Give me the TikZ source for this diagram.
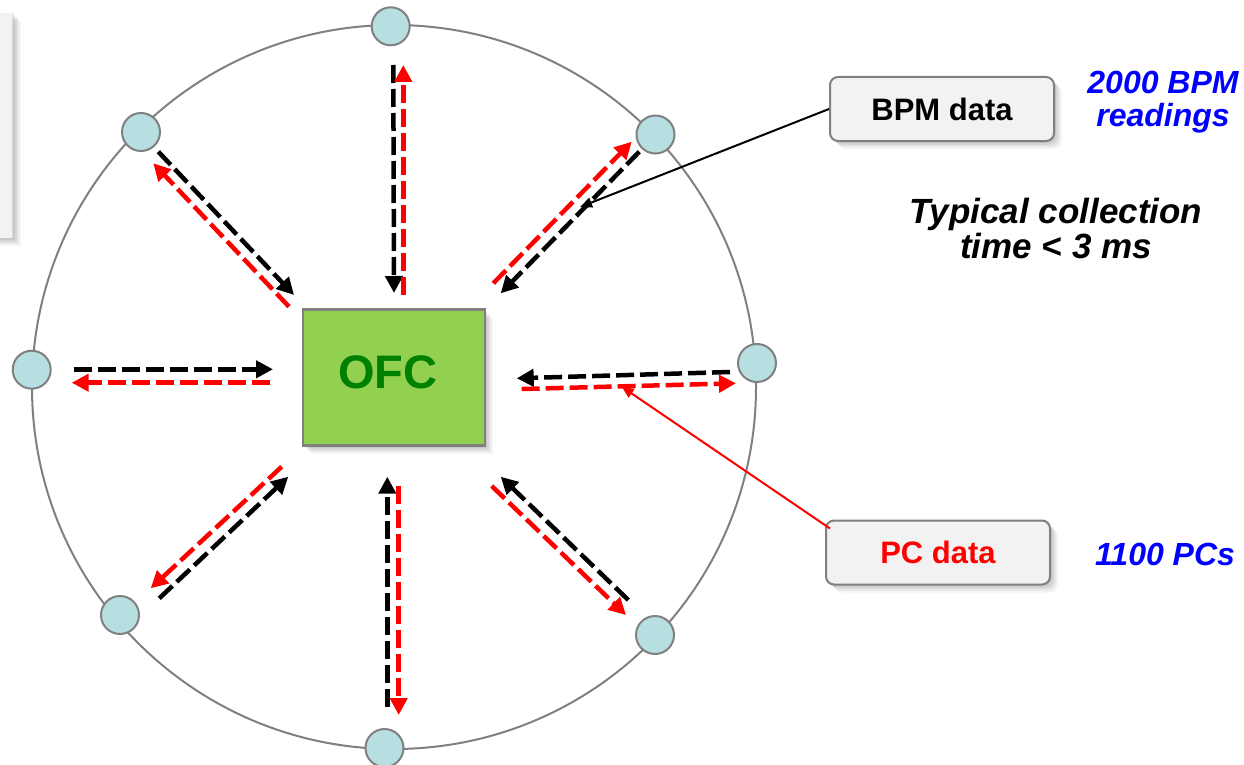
\documentclass[tikz,border=0pt]{standalone}
\usepackage{fontspec}
\setmainfont{Liberation Sans}
\usetikzlibrary{arrows.meta,shadows}

\definecolor{ringgray}{HTML}{808080}
\definecolor{stationfill}{HTML}{B7DEE0}
\definecolor{ofcgreen}{HTML}{92D050}
\definecolor{ofctext}{HTML}{008000}
\definecolor{panelfill}{HTML}{F2F2F2}
\definecolor{labelblue}{HTML}{0000FF}
\definecolor{flowred}{HTML}{FF0000}

\tikzset{
  softshadow/.style={
    general shadow={fill=black,opacity=0.07,shadow xshift=2pt,shadow yshift=-2pt},
    general shadow={fill=black,opacity=0.07,shadow xshift=4pt,shadow yshift=-4pt},
    general shadow={fill=black,opacity=0.06,shadow xshift=6pt,shadow yshift=-6pt},
    general shadow={fill=black,opacity=0.04,shadow xshift=8pt,shadow yshift=-8pt}},
  ring/.style={draw=ringgray,line width=2pt},
  station/.style={circle,draw=ringgray,line width=2pt,fill=stationfill,
    minimum size=38pt,inner sep=0pt},
  ofcbox/.style={rectangle,draw=ringgray,line width=2.5pt,fill=ofcgreen,
    minimum width=182pt,minimum height=136pt,softshadow},
  tagbox/.style={rectangle,rounded corners=8pt,draw=ringgray,line width=2pt,
    fill=panelfill,minimum width=224pt,minimum height=64pt,softshadow,
    font=\fontsize{31}{35}\selectfont\bfseries},
  flow/.style={line width=4.5pt,dash pattern=on 18pt off 6pt,
    -{Triangle[length=17pt,width=17pt]}},
  bpmflow/.style={flow,draw=black},
  pcflow/.style={flow,draw=flowred},
  pointer/.style={line width=2pt,-{Triangle[length=12pt,width=10pt]}},
  note/.style={text=labelblue,align=center,font=\fontsize{32}{33}\selectfont\bfseries\itshape},
}

\begin{document}
\begin{tikzpicture}[x=1pt,y=-1pt]
\useasboundingbox (0,0) rectangle (1244,765);

% side panel, only its right edge shows
\fill[panelfill,softshadow] (-20,13) rectangle (12.5,238);
\draw[black!15,line width=1pt] (12.5,13) -- (12.5,238);

% ring of stations
\draw[ring] (394,387) circle[radius=362pt];

\node[station] (ntop) at (390.7,26.3) {};
\node[station] (ntl)  at (141,132) {};
\node[station] (ntr)  at (655.5,134.5) {};
\node[station] (nl)   at (31.7,369.7) {};
\node[station] (nr)   at (757,363) {};
\node[station] (nbl)  at (120,615) {};
\node[station] (nbr)  at (655,635) {};
\node[station] (nb)   at (384.5,748) {};

% central orbit feedback controller
\node[ofcbox,label={[text=ofctext,font=\fontsize{47}{50}\selectfont\bfseries,xshift=-6pt,yshift=5pt]center:OFC}] (ofc) at (394,377.5) {};

% end points of the data flows
\coordinate (topB1) at (393.3,65);   \coordinate (topB2) at (394,293);
\coordinate (topR1) at (403.3,295);  \coordinate (topR2) at (403.3,65);
\coordinate (trB1)  at (639.3,151.7);\coordinate (trB2)  at (500.7,293.3);
\coordinate (trR1)  at (493.3,283.3);\coordinate (trR2)  at (631.7,141.7);
\coordinate (rB1)   at (730,372);    \coordinate (rB2)   at (516.7,378.3);
\coordinate (rR1)   at (521.7,389);  \coordinate (rR2)   at (736,383.3);
\coordinate (brB1)  at (628.3,600);  \coordinate (brB2)  at (500.7,476.7);
\coordinate (brR1)  at (491.7,486);  \coordinate (brR2)  at (626,615);
\coordinate (bB1)   at (387.3,706.7);\coordinate (bB2)   at (387.3,476.7);
\coordinate (bR1)   at (398.7,486);  \coordinate (bR2)   at (398.7,715);
\coordinate (blB1)  at (159.3,598.3);\coordinate (blB2)  at (288.3,476.7);
\coordinate (blR1)  at (281.7,466.7);\coordinate (blR2)  at (150.7,588.3);
\coordinate (lB1)   at (74,369.3);   \coordinate (lB2)   at (273,369.3);
\coordinate (lR1)   at (270,382.7);  \coordinate (lR2)   at (71.7,382.7);
\coordinate (tlB1)  at (158.3,151.7);\coordinate (tlB2)  at (294,295);
\coordinate (tlR1)  at (289,306.7);  \coordinate (tlR2)  at (153.3,163.3);

% BPM readings travel inwards, corrections travel outwards
\foreach \p in {top,tr,r,br,b,bl,l,tl}{
  \draw[bpmflow] (\p B1) -- (\p B2);
  \draw[pcflow]  (\p R1) -- (\p R2);
}

% callouts
\node[tagbox] (bpm) at (942,109) {BPM data};
\node[tagbox,text=flowred] (pc) at (938,552.5) {PC data};

\coordinate (bpmtip) at (580,207);
\coordinate (pctip) at (621.7,386.7);
\draw[pointer,draw=black] (bpm.west) -- (bpmtip);
\draw[pointer,draw=flowred] ([shift={(5,9)}]pc.north west) -- (pctip);

% annotations
\node[note] (bpmcount) at (1163,102) {2000 BPM\\readings};
\node[align=center,font=\fontsize{35}{35}\selectfont\bfseries\itshape] (ctime) at (1056,228) {Typical collection\\time < 3 ms};
\node[note,anchor=base] (pccount) at (1165,565) {1100 PCs};
\end{tikzpicture}
\end{document}
